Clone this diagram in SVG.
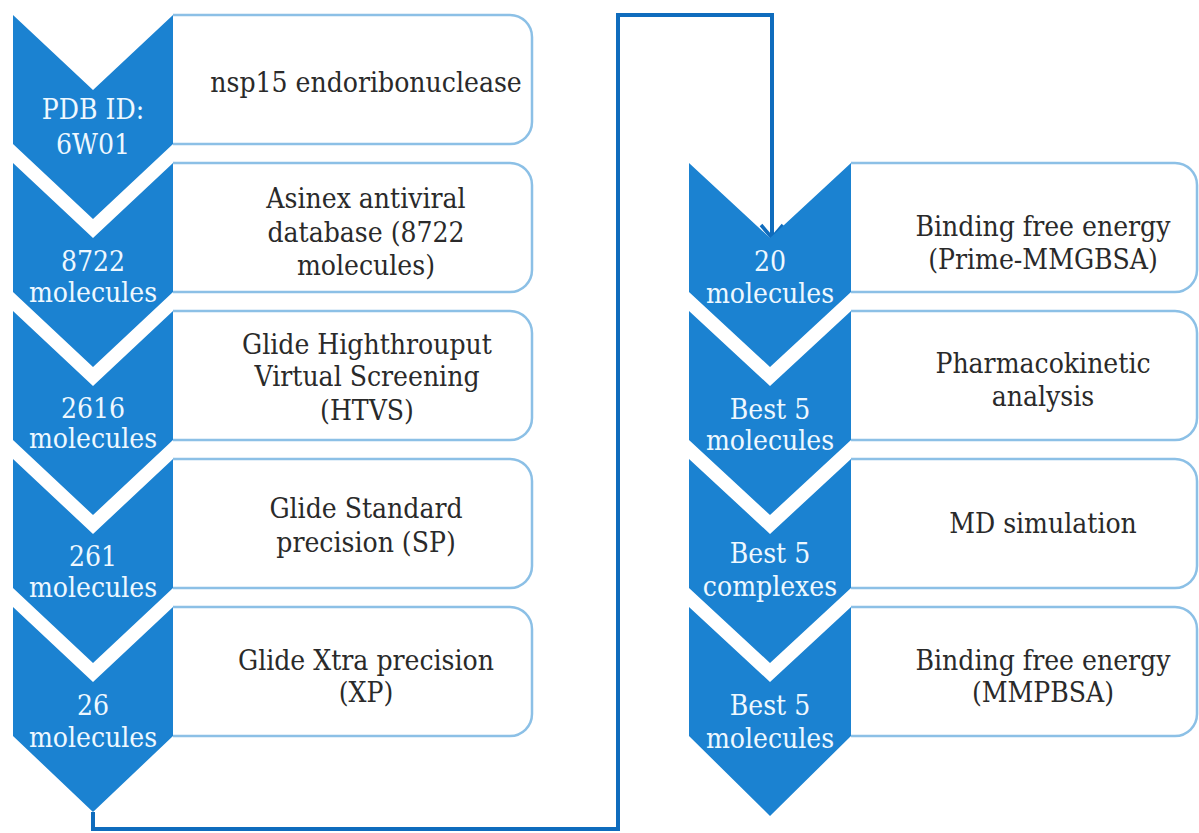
<svg xmlns="http://www.w3.org/2000/svg" width="1199" height="833" viewBox="0 0 1199 833">
<defs>
<style>
.chev{fill:#1b82d1;}
.box{fill:#ffffff;stroke:#8cc0e6;stroke-width:2.5;}
.ct{font-family:"DejaVu Serif Condensed","DejaVu Serif",serif;font-stretch:condensed;font-size:28px;fill:#eef8ff;text-anchor:middle;}
.bt{font-family:"DejaVu Serif Condensed","DejaVu Serif",serif;font-stretch:condensed;font-size:28px;fill:#2a2a2a;text-anchor:middle;}
.conn{fill:none;stroke:#0f6cbd;stroke-width:4;}
</style>
</defs>
<rect width="1199" height="833" fill="#ffffff"/>

<g id="connectors">
<path class="conn" d="M93,812 V829 H618 V15 H772 V236"/>
<path d="M761,225 L772,238 L783,225" fill="none" stroke="#0f6cbd" stroke-width="3.5"/>
</g>

<g id="n1">
<path class="box" d="M173,15 H510 A22,22 0 0 1 532,37 V122 A22,22 0 0 1 510,144 H173"/>
<polygon class="chev" points="13,15 93,90 173,15 173,144 93,219 13,144"/>
<text class="ct" x="93" y="119">PDB ID:</text>
<text class="ct" x="93" y="154">6W01</text>
<text class="bt" x="366" y="92">nsp15 endoribonuclease</text>
</g>

<g id="n2">
<path class="box" d="M173,163 H510 A22,22 0 0 1 532,185 V270 A22,22 0 0 1 510,292 H173"/>
<polygon class="chev" points="13,163 93,238 173,163 173,292 93,367 13,292"/>
<text class="ct" x="93" y="271">8722</text>
<text class="ct" x="93" y="302">molecules</text>
<text class="bt" x="366" y="208">Asinex antiviral</text>
<text class="bt" x="366" y="242">database (8722</text>
<text class="bt" x="366" y="275">molecules)</text>
</g>

<g id="n3">
<path class="box" d="M173,311 H510 A22,22 0 0 1 532,333 V418 A22,22 0 0 1 510,440 H173"/>
<polygon class="chev" points="13,311 93,386 173,311 173,440 93,515 13,440"/>
<text class="ct" x="93" y="418">2616</text>
<text class="ct" x="93" y="448">molecules</text>
<text class="bt" x="367" y="354">Glide Highthrouput</text>
<text class="bt" x="367" y="386">Virtual Screening</text>
<text class="bt" x="367" y="420">(HTVS)</text>
</g>

<g id="n4">
<path class="box" d="M173,459 H510 A22,22 0 0 1 532,481 V566 A22,22 0 0 1 510,588 H173"/>
<polygon class="chev" points="13,459 93,534 173,459 173,588 93,663 13,588"/>
<text class="ct" x="93" y="566">261</text>
<text class="ct" x="93" y="597">molecules</text>
<text class="bt" x="366" y="518">Glide Standard</text>
<text class="bt" x="366" y="552">precision (SP)</text>
</g>

<g id="n5">
<path class="box" d="M173,607 H510 A22,22 0 0 1 532,629 V714 A22,22 0 0 1 510,736 H173"/>
<polygon class="chev" points="13,607 93,682 173,607 173,736 93,812 13,736"/>
<text class="ct" x="93" y="715">26</text>
<text class="ct" x="93" y="747">molecules</text>
<text class="bt" x="366" y="670">Glide Xtra precision</text>
<text class="bt" x="366" y="702">(XP)</text>
</g>

<g id="n6">
<path class="box" d="M851,163 H1175 A22,22 0 0 1 1197,185 V270 A22,22 0 0 1 1175,292 H851"/>
<polygon class="chev" points="689,163 770,238 851,163 851,292 770,367 689,292"/>
<text class="ct" x="770" y="271">20</text>
<text class="ct" x="770" y="303">molecules</text>
<text class="bt" x="1043" y="236">Binding free energy</text>
<text class="bt" x="1043" y="269">(Prime-MMGBSA)</text>
</g>

<g id="n7">
<path class="box" d="M851,311 H1175 A22,22 0 0 1 1197,333 V418 A22,22 0 0 1 1175,440 H851"/>
<polygon class="chev" points="689,311 770,386 851,311 851,440 770,515 689,440"/>
<text class="ct" x="770" y="419">Best 5</text>
<text class="ct" x="770" y="450">molecules</text>
<text class="bt" x="1043" y="373">Pharmacokinetic</text>
<text class="bt" x="1043" y="406">analysis</text>
</g>

<g id="n8">
<path class="box" d="M851,459 H1175 A22,22 0 0 1 1197,481 V566 A22,22 0 0 1 1175,588 H851"/>
<polygon class="chev" points="689,459 770,534 851,459 851,588 770,663 689,588"/>
<text class="ct" x="770" y="563">Best 5</text>
<text class="ct" x="770" y="596">complexes</text>
<text class="bt" x="1043" y="533">MD simulation</text>
</g>

<g id="n9">
<path class="box" d="M851,607 H1175 A22,22 0 0 1 1197,629 V714 A22,22 0 0 1 1175,736 H851"/>
<polygon class="chev" points="689,607 770,682 851,607 851,736 770,816 689,736"/>
<text class="ct" x="770" y="715">Best 5</text>
<text class="ct" x="770" y="748">molecules</text>
<text class="bt" x="1043" y="670">Binding free energy</text>
<text class="bt" x="1043" y="702">(MMPBSA)</text>
</g>
</svg>
